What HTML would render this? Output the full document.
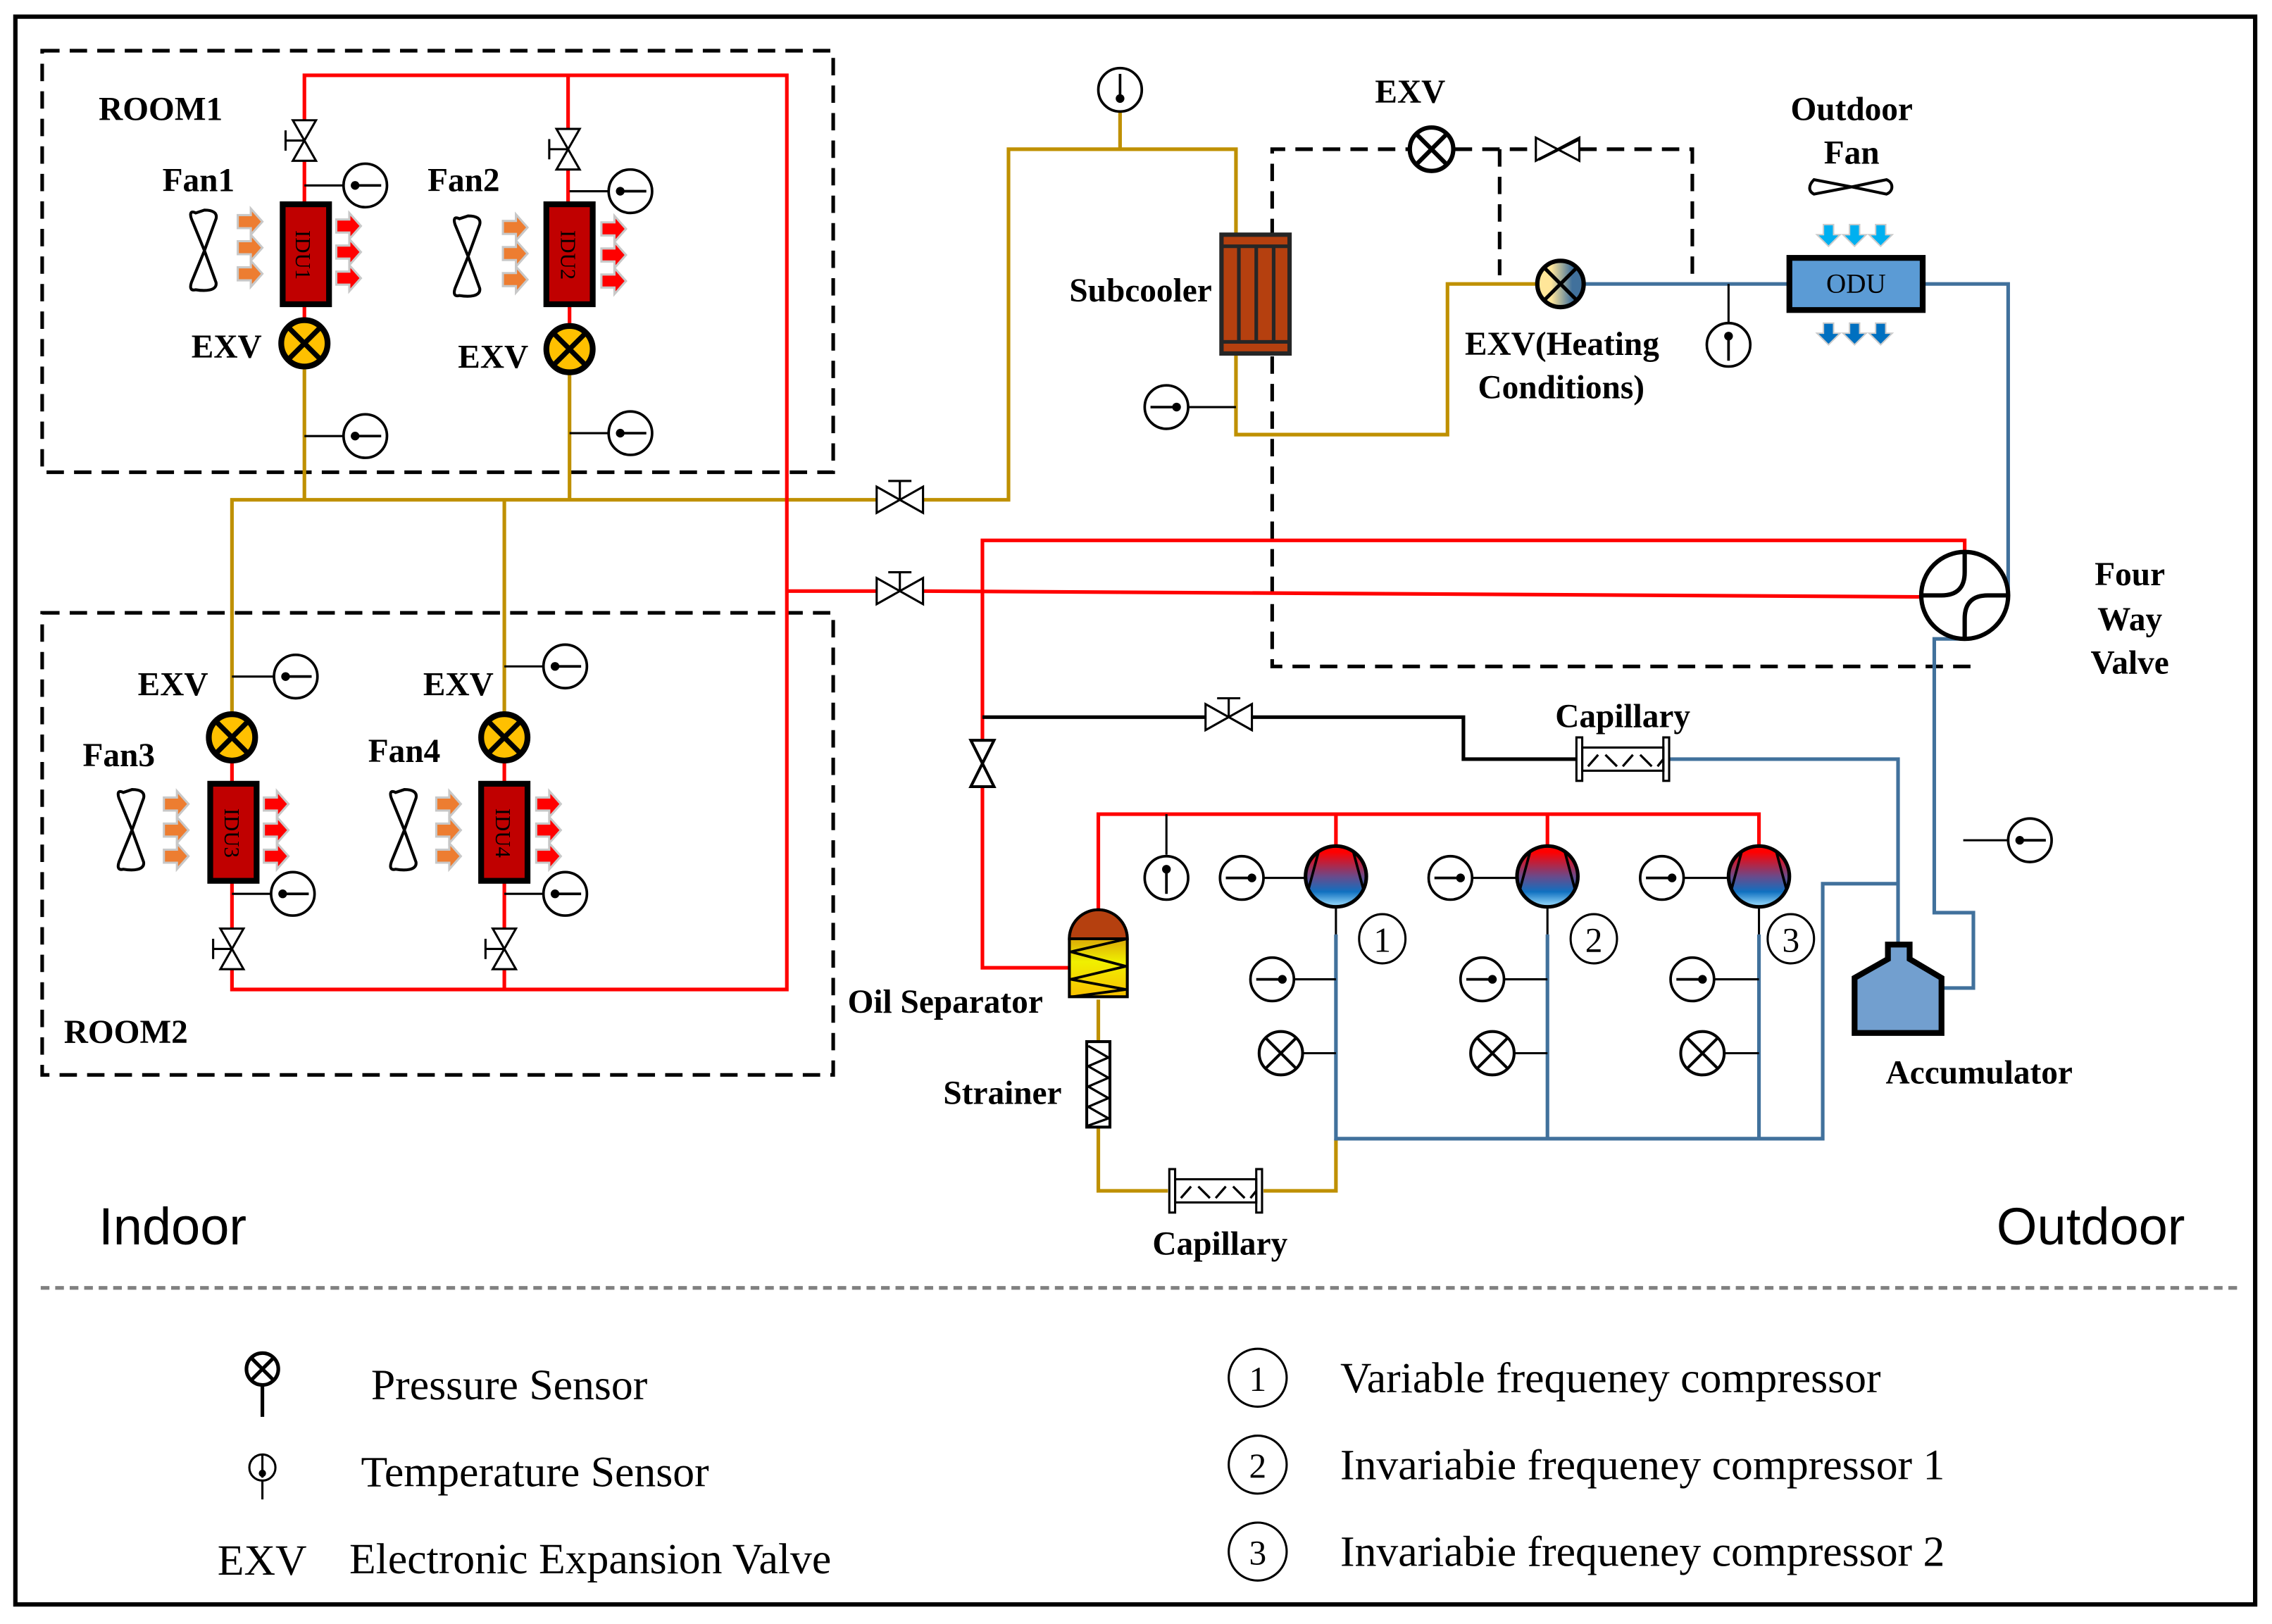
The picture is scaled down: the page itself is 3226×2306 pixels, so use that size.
<!DOCTYPE html>
<html><head><meta charset="utf-8">
<style>
html,body{margin:0;padding:0;background:#fff;}
svg{display:block;}
.b{font-family:"Liberation Serif",serif;font-weight:bold;font-size:23px;fill:#000;}
.n{font-family:"Liberation Serif",serif;font-size:30px;fill:#000;}
</style></head><body>
<svg width="3226" height="2306" viewBox="0 0 1568 1121" xmlns="http://www.w3.org/2000/svg">
<defs>
<linearGradient id="compg" x1="0" y1="0" x2="0" y2="1">
<stop offset="0.1" stop-color="#ff0000"/><stop offset="0.5" stop-color="#6a4a8a"/><stop offset="0.75" stop-color="#1070c0"/><stop offset="1" stop-color="#a0e0ff"/></linearGradient>
<linearGradient id="oil" x1="0" y1="0" x2="0" y2="1">
<stop offset="0" stop-color="#c05010"/><stop offset="0.6" stop-color="#f0f000"/><stop offset="1" stop-color="#f8c000"/></linearGradient>
<linearGradient id="hx" x1="0" y1="0" x2="1" y2="0">
<stop offset="0.3" stop-color="#ffe699"/><stop offset="0.75" stop-color="#41719c"/></linearGradient>
<g id="tsR"><circle r="15" fill="#fff" stroke="#000" stroke-width="1.8"/><line x1="-7" y1="0" x2="11" y2="0" stroke="#000" stroke-width="1.8"/><circle cx="-7" r="3" fill="#000"/></g>
<g id="tsL"><circle r="15" fill="#fff" stroke="#000" stroke-width="1.8"/><line x1="-11" y1="0" x2="7" y2="0" stroke="#000" stroke-width="1.8"/><circle cx="7" r="3" fill="#000"/></g>
<g id="tsD"><circle r="15" fill="#fff" stroke="#000" stroke-width="1.8"/><line x1="0" y1="-11" x2="0" y2="6" stroke="#000" stroke-width="1.8"/><circle cy="6" r="3" fill="#000"/></g>
<g id="tsU"><circle r="15" fill="#fff" stroke="#000" stroke-width="1.8"/><line x1="0" y1="11" x2="0" y2="-6" stroke="#000" stroke-width="1.8"/><circle cy="-6" r="3" fill="#000"/></g>
<g id="ps"><circle r="15" fill="#fff" stroke="#000" stroke-width="2"/><line x1="-10" y1="-10" x2="10" y2="10" stroke="#000" stroke-width="2"/><line x1="10" y1="-10" x2="-10" y2="10" stroke="#000" stroke-width="2"/></g>
<g id="yexv"><circle r="16" fill="#ffc000" stroke="#000" stroke-width="4"/><line x1="-11" y1="-11" x2="11" y2="11" stroke="#000" stroke-width="3.5"/><line x1="11" y1="-11" x2="-11" y2="11" stroke="#000" stroke-width="3.5"/></g>
<g id="vV"><polygon points="-8,-14 8,-14 0,0" fill="#fff" stroke="#000" stroke-width="1.5"/><polygon points="-8,14 8,14 0,0" fill="#fff" stroke="#000" stroke-width="1.5"/><line x1="0" y1="0" x2="-13" y2="0" stroke="#000" stroke-width="1.5"/><line x1="-13" y1="-7" x2="-13" y2="7" stroke="#000" stroke-width="1.5"/></g>
<g id="vH"><polygon points="-16,-9 -16,9 0,0" fill="#fff" stroke="#000" stroke-width="1.5"/><polygon points="16,-9 16,9 0,0" fill="#fff" stroke="#000" stroke-width="1.5"/><line x1="0" y1="0" x2="0" y2="-13" stroke="#000" stroke-width="1.5"/><line x1="-8" y1="-13" x2="8" y2="-13" stroke="#000" stroke-width="1.5"/></g>
<g id="fanV"><path d="M-6,-26 C-10,-28 -10,-25 -9,-22 L0,0 L-9,22 C-10,25 -10,28 -6,27 C0,28 9,28 8,22 L0,0 L8,-22 C9,-26 6,-28 0,-28 Z" fill="#fff" stroke="#000" stroke-width="2"/></g>
<g id="arO"><path d="M0,-4.5 H9 V-9 L17,0 L9,9 V4.5 H0 Z" fill="#ed7d31" stroke="#c8c8c8" stroke-width="1.5"/></g>
<g id="arR"><path d="M0,-4.5 H9 V-9 L17,0 L9,9 V4.5 H0 Z" fill="#ff0000" stroke="#c8c8c8" stroke-width="1.5"/></g>
<g id="cmp"><circle r="21" fill="url(#compg)" stroke="#000" stroke-width="2.5"/><line x1="-12" y1="-17" x2="-19" y2="9" stroke="#000" stroke-width="1.8"/><line x1="12" y1="-17" x2="19" y2="9" stroke="#000" stroke-width="1.8"/></g>
<g id="cap"><rect x="-32" y="-15" width="4" height="30" fill="#fff" stroke="#000" stroke-width="1.5"/><rect x="28" y="-15" width="4" height="30" fill="#fff" stroke="#000" stroke-width="1.5"/><rect x="-28" y="-8" width="56" height="16" fill="none" stroke="#000" stroke-width="1.5"/><path d="M-24,5 L-17,-3 M-12,-3 L-4,5 M0,5 L7,-3 M12,-3 L20,5 M24,5 L28,0" stroke="#000" stroke-width="1.6"/></g>
<g id="dn1"><path d="M-3.5,0 H3.5 V7 H8 L0,15 L-8,7 H-3.5 Z" fill="#00b0f0" stroke="#ccc" stroke-width="1"/></g>
<g id="dn2"><path d="M-3.5,0 H3.5 V7 H8 L0,15 L-8,7 H-3.5 Z" fill="#0070c0" stroke="#ccc" stroke-width="1"/></g>
</defs>

<rect x="10.5" y="11.5" width="1546" height="1096" fill="#fff" stroke="#000" stroke-width="3"/>

<rect x="29" y="35" width="546" height="291" fill="none" stroke="#000" stroke-width="2.5" stroke-dasharray="12,7"/>
<rect x="29" y="423" width="546" height="319" fill="none" stroke="#000" stroke-width="2.5" stroke-dasharray="12,7"/>
<g fill="none" stroke="#000" stroke-width="2.5" stroke-dasharray="12,7">
<path d="M1360,460 H878 V103 H972"/>
<path d="M1004,103 H1060"/>
<path d="M1090,103 H1168 V190"/>
<path d="M1035,103 V190"/>
</g>

<g fill="none" stroke="#bf9000" stroke-width="2.5">
<path d="M210,255 V345 M393,258 V345"/>
<path d="M160,492 V345 H605 M637,345 H696 V103 H853 V300 H999 V196 H1060"/>
<path d="M348,345 V492"/>
<path d="M773,77 V103"/>
<path d="M758,690 V720 M758,778 V822 H806 M872,822 H922 V786"/>
</g>

<g fill="none" stroke="#ff0000" stroke-width="2.5">
<path d="M210,84 V52 H543 V683 H160 V669"/>
<path d="M210,110 V140 M210,210 V221"/>
<path d="M392,90 V52 M392,116 V140 M393,210 V225"/>
<path d="M160,525 V540 M160,608 V641"/>
<path d="M348,525 V540 M348,608 V641 M348,669 V683"/>
<path d="M543,408 H605 M637,408 L1326,412"/>
<path d="M678,511 V373 H1356 V381"/>
<path d="M678,543 V668 H738"/>
<path d="M758,630 V562 H1214 V583 M922,562 V583 M1068,562 V583"/>
</g>

<g fill="none" stroke="#000" stroke-width="2.5">
<path d="M678,495 H832 M864,495 H1010 V524 H1088"/>
</g>
<g stroke="#000" stroke-width="1.5">
<path d="M922,583 V588 M922,626 V645 M1068,583 V588 M1068,626 V645 M1214,583 V588 M1214,626 V645"/>
</g>

<g fill="none" stroke="#41719c" stroke-width="2.5">
<path d="M1093,196 H1235 M1327,196 H1386 V411"/>
<path d="M1356,441 H1335 V630 H1362 V682 H1340"/>
<path d="M1152,524 H1310 V652"/>
<path d="M1310,610 H1258 V786 H922 V645"/>
<path d="M1068,645 V786 M1214,645 V786"/>
</g>

<use href="#vV" x="210" y="97"/>
<use href="#vV" x="392" y="103"/>
<rect x="195" y="141" width="32" height="69" fill="#c00000" stroke="#000" stroke-width="4"/>
<text transform="translate(204,176) rotate(90)" text-anchor="middle" font-family="Liberation Serif,serif" font-size="15">IDU1</text>
<rect x="377" y="141" width="32" height="69" fill="#c00000" stroke="#000" stroke-width="4"/>
<text transform="translate(387,176) rotate(90)" text-anchor="middle" font-family="Liberation Serif,serif" font-size="15">IDU2</text>
<use href="#yexv" x="210" y="237"/>
<use href="#yexv" x="393" y="241"/>
<use href="#fanV" x="141" y="173"/>
<use href="#fanV" x="323" y="177"/>
<use href="#arO" x="164" y="153"/><use href="#arO" x="164" y="171"/><use href="#arO" x="164" y="189"/>
<use href="#arR" x="232" y="156"/><use href="#arR" x="232" y="174"/><use href="#arR" x="232" y="192"/>
<use href="#arO" x="347" y="157"/><use href="#arO" x="347" y="175"/><use href="#arO" x="347" y="193"/>
<use href="#arR" x="415" y="158"/><use href="#arR" x="415" y="176"/><use href="#arR" x="415" y="194"/>
<line x1="210" y1="128" x2="237" y2="128" stroke="#000" stroke-width="1.5"/><use href="#tsR" x="252" y="128"/>
<line x1="393" y1="132" x2="420" y2="132" stroke="#000" stroke-width="1.5"/><use href="#tsR" x="435" y="132"/>
<line x1="210" y1="301" x2="237" y2="301" stroke="#000" stroke-width="1.5"/><use href="#tsR" x="252" y="301"/>
<line x1="393" y1="299" x2="420" y2="299" stroke="#000" stroke-width="1.5"/><use href="#tsR" x="435" y="299"/>

<use href="#yexv" x="160" y="509"/>
<use href="#yexv" x="348" y="509"/>
<rect x="145" y="541" width="32" height="67" fill="#c00000" stroke="#000" stroke-width="4"/>
<text transform="translate(155,575) rotate(90)" text-anchor="middle" font-family="Liberation Serif,serif" font-size="15">IDU3</text>
<rect x="332" y="541" width="32" height="67" fill="#c00000" stroke="#000" stroke-width="4"/>
<text transform="translate(342,575) rotate(90)" text-anchor="middle" font-family="Liberation Serif,serif" font-size="15">IDU4</text>
<use href="#fanV" x="91" y="573"/>
<use href="#fanV" x="279" y="573"/>
<use href="#arO" x="113" y="555"/><use href="#arO" x="113" y="573"/><use href="#arO" x="113" y="591"/>
<use href="#arR" x="182" y="555"/><use href="#arR" x="182" y="573"/><use href="#arR" x="182" y="591"/>
<use href="#arO" x="301" y="555"/><use href="#arO" x="301" y="573"/><use href="#arO" x="301" y="591"/>
<use href="#arR" x="370" y="555"/><use href="#arR" x="370" y="573"/><use href="#arR" x="370" y="591"/>
<use href="#vV" x="160" y="655"/>
<use href="#vV" x="348" y="655"/>
<line x1="160" y1="467" x2="189" y2="467" stroke="#000" stroke-width="1.5"/><use href="#tsR" x="204" y="467"/>
<line x1="348" y1="460" x2="375" y2="460" stroke="#000" stroke-width="1.5"/><use href="#tsR" x="390" y="460"/>
<line x1="160" y1="617" x2="187" y2="617" stroke="#000" stroke-width="1.5"/><use href="#tsR" x="202" y="617"/>
<line x1="348" y1="617" x2="375" y2="617" stroke="#000" stroke-width="1.5"/><use href="#tsR" x="390" y="617"/>

<use href="#vH" x="621" y="345"/>
<use href="#vH" x="621" y="408"/>
<use href="#vH" x="848" y="495"/>
<polygon points="670,511 686,511 678,527" fill="#fff" stroke="#000" stroke-width="2"/>
<polygon points="670,543 686,543 678,527" fill="#fff" stroke="#000" stroke-width="2"/>
<polygon points="1060,95 1060,111 1075,103" fill="#fff" stroke="#000" stroke-width="1.5"/>
<polygon points="1090,95 1090,111 1075,103" fill="#fff" stroke="#000" stroke-width="1.5"/>
<line x1="1062" y1="110" x2="1090" y2="96" stroke="#000" stroke-width="2"/>

<use href="#tsD" x="773" y="62"/>
<rect x="843" y="162" width="47" height="82" fill="#b5400f" stroke="#262626" stroke-width="3"/>
<path d="M843,170 H890 M843,236 H890 M855,170 V236 M867,170 V236 M879,170 V236" stroke="#262626" stroke-width="2.5" fill="none"/>
<line x1="820" y1="281" x2="853" y2="281" stroke="#000" stroke-width="1.5"/><use href="#tsL" x="805" y="281"/>

<circle cx="988" cy="103" r="15" fill="#fff" stroke="#000" stroke-width="3"/>
<line x1="977" y1="92" x2="999" y2="114" stroke="#000" stroke-width="3"/><line x1="999" y1="92" x2="977" y2="114" stroke="#000" stroke-width="3"/>
<circle cx="1077" cy="196" r="16" fill="url(#hx)" stroke="#000" stroke-width="3"/>
<line x1="1066" y1="185" x2="1088" y2="207" stroke="#000" stroke-width="2.5"/><line x1="1088" y1="185" x2="1066" y2="207" stroke="#000" stroke-width="2.5"/>
<line x1="1193" y1="196" x2="1193" y2="223" stroke="#000" stroke-width="1.5"/><use href="#tsU" x="1193" y="238"/>

<rect x="1235" y="178" width="92" height="36" fill="#5b9bd5" stroke="#000" stroke-width="4"/>
<text x="1281" y="202" text-anchor="middle" font-family="Liberation Serif,serif" font-size="19">ODU</text>
<use href="#dn1" x="1262" y="155"/><use href="#dn1" x="1280" y="155"/><use href="#dn1" x="1298" y="155"/>
<use href="#dn2" x="1262" y="223"/><use href="#dn2" x="1280" y="223"/><use href="#dn2" x="1298" y="223"/>
<path d="M1252,124 C1248,128 1248,132 1252,134 L1278,129 L1302,134 C1307,132 1307,126 1302,124 L1278,129 Z" fill="#fff" stroke="#000" stroke-width="2"/>

<circle cx="1356" cy="411" r="30" fill="#fff" stroke="#000" stroke-width="3"/>
<path d="M1356,381 V395 Q1356,411 1340,411 H1326 M1386,411 H1372 Q1356,411 1356,427 V441" fill="none" stroke="#000" stroke-width="3"/>
<line x1="1355" y1="580" x2="1386" y2="580" stroke="#000" stroke-width="1.5"/><use href="#tsR" x="1401" y="580"/>

<use href="#cap" x="1120" y="524"/>
<use href="#cap" x="839" y="822"/>

<path d="M738,648 A20,20 0 0 1 778,648 V688 H738 Z" fill="url(#oil)" stroke="#000" stroke-width="2"/>
<path d="M738,648 A20,20 0 0 1 778,648 Z" fill="#b5400f" stroke="#000" stroke-width="2"/>
<path d="M778,648 L739,657 L777,667 L739,676 L777,683 L740,688" fill="none" stroke="#000" stroke-width="1.8"/>
<rect x="750" y="719" width="16" height="59" fill="#fff" stroke="#000" stroke-width="2"/>
<path d="M751,722 L765,730 L751,736 L765,744 L751,750 L765,758 L751,764 L765,772 L751,777" fill="none" stroke="#000" stroke-width="1.6"/>

<use href="#cmp" x="922" y="605"/>
<use href="#cmp" x="1068" y="605"/>
<use href="#cmp" x="1214" y="605"/>
<line x1="805" y1="562" x2="805" y2="590" stroke="#000" stroke-width="1.5"/><use href="#tsU" x="805" y="606"/>
<line x1="872" y1="606" x2="901" y2="606" stroke="#000" stroke-width="1.5"/><use href="#tsL" x="857" y="606"/>
<line x1="1016" y1="606" x2="1047" y2="606" stroke="#000" stroke-width="1.5"/><use href="#tsL" x="1001" y="606"/>
<line x1="1162" y1="606" x2="1193" y2="606" stroke="#000" stroke-width="1.5"/><use href="#tsL" x="1147" y="606"/>
<line x1="893" y1="676" x2="922" y2="676" stroke="#000" stroke-width="1.5"/><use href="#tsL" x="878" y="676"/>
<line x1="1038" y1="676" x2="1068" y2="676" stroke="#000" stroke-width="1.5"/><use href="#tsL" x="1023" y="676"/>
<line x1="1183" y1="676" x2="1214" y2="676" stroke="#000" stroke-width="1.5"/><use href="#tsL" x="1168" y="676"/>
<line x1="899" y1="727" x2="922" y2="727" stroke="#000" stroke-width="1.5"/><use href="#ps" x="884" y="727"/>
<line x1="1045" y1="727" x2="1068" y2="727" stroke="#000" stroke-width="1.5"/><use href="#ps" x="1030" y="727"/>
<line x1="1190" y1="727" x2="1214" y2="727" stroke="#000" stroke-width="1.5"/><use href="#ps" x="1175" y="727"/>
<g fill="none" stroke="#000" stroke-width="1.5">
<ellipse cx="954" cy="648" rx="16" ry="17"/><ellipse cx="1100" cy="648" rx="16" ry="17"/><ellipse cx="1236" cy="648" rx="16" ry="17"/>
</g>
<g font-family="Liberation Serif,serif" font-size="24" text-anchor="middle">
<text x="954" y="657">1</text><text x="1100" y="657">2</text><text x="1236" y="657">3</text>
</g>

<path d="M1303,652 H1318 V662 L1340,675 V713 H1280 V675 L1303,662 Z" fill="#729fcf" stroke="#000" stroke-width="4"/>

<g class="b">
<text x="68" y="83">ROOM1</text>
<text x="112" y="132">Fan1</text>
<text x="295" y="132">Fan2</text>
<text x="132" y="247">EXV</text>
<text x="316" y="254">EXV</text>
<text x="95" y="480">EXV</text>
<text x="292" y="480">EXV</text>
<text x="57" y="529">Fan3</text>
<text x="254" y="526">Fan4</text>
<text x="44" y="720">ROOM2</text>
<text x="738" y="208">Subcooler</text>
<text x="949" y="71">EXV</text>
<text x="1278" y="83" text-anchor="middle">Outdoor</text>
<text x="1278" y="113" text-anchor="middle">Fan</text>
<text x="1011" y="245">EXV(Heating</text>
<text x="1020" y="275">Conditions)</text>
<text x="1470" y="404" text-anchor="middle">Four</text>
<text x="1470" y="435" text-anchor="middle">Way</text>
<text x="1470" y="465" text-anchor="middle">Valve</text>
<text x="1120" y="502" text-anchor="middle">Capillary</text>
<text x="585" y="699">Oil Separator</text>
<text x="651" y="762">Strainer</text>
<text x="842" y="866" text-anchor="middle">Capillary</text>
<text x="1366" y="748" text-anchor="middle">Accumulator</text>
</g>
<text x="68" y="859" font-family="Liberation Sans,sans-serif" font-size="36">Indoor</text>
<text x="1378" y="859" font-family="Liberation Sans,sans-serif" font-size="36">Outdoor</text>

<line x1="28" y1="889" x2="1545" y2="889" stroke="#808080" stroke-width="2.5" stroke-dasharray="6,4"/>

<circle cx="181" cy="945" r="11" fill="#fff" stroke="#000" stroke-width="2.5"/>
<line x1="173" y1="937" x2="189" y2="953" stroke="#000" stroke-width="2.5"/><line x1="189" y1="937" x2="173" y2="953" stroke="#000" stroke-width="2.5"/>
<line x1="181" y1="956" x2="181" y2="978" stroke="#000" stroke-width="2.5"/>
<circle cx="181" cy="1013" r="9" fill="#fff" stroke="#000" stroke-width="1.5"/>
<line x1="181" y1="1004" x2="181" y2="1020" stroke="#000" stroke-width="1.5"/><circle cx="181" cy="1017" r="2.5"/>
<line x1="181" y1="1022" x2="181" y2="1035" stroke="#000" stroke-width="1.5"/>
<g class="n">
<text x="256" y="966">Pressure Sensor</text>
<text x="249" y="1026">Temperature Sensor</text>
<text x="150" y="1087">EXV</text>
<text x="241" y="1086">Electronic Expansion Valve</text>
<text x="925" y="961">Variable frequeney compressor</text>
<text x="925" y="1021">Invariabie frequeney compressor 1</text>
<text x="925" y="1081">Invariabie frequeney compressor 2</text>
</g>
<g fill="none" stroke="#000" stroke-width="1.5">
<circle cx="868" cy="951" r="20"/><circle cx="868" cy="1011" r="20"/><circle cx="868" cy="1071" r="20"/>
</g>
<g font-family="Liberation Serif,serif" font-size="24" text-anchor="middle">
<text x="868" y="960">1</text><text x="868" y="1020">2</text><text x="868" y="1080">3</text>
</g>
</svg>
</body></html>
